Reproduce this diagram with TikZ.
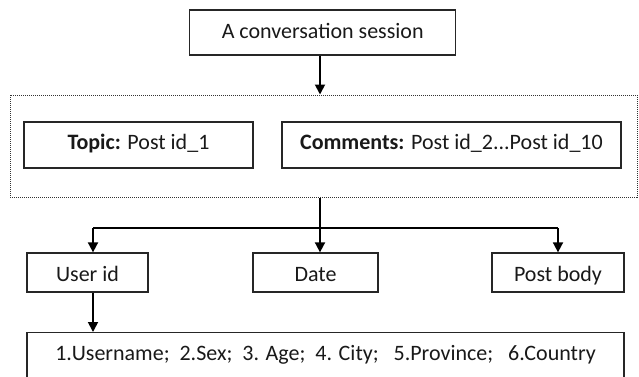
\documentclass[tikz,border=0pt]{standalone}
\usepackage{fontspec}
\setmainfont{Carlito}
\usetikzlibrary{arrows.meta}
\begin{document}
\begin{tikzpicture}[x=1pt,y=-1pt,
  box/.style={draw=black!85, line width=1.3pt, rectangle, inner sep=0pt, font=\fontsize{22}{26}\selectfont, text=black!90, text height=15pt, text depth=5pt},
  lowtext/.style={text height=19pt, text depth=1pt},
  grp/.style={draw=black!80, line width=1pt, dash pattern=on 1pt off 1pt, rectangle, inner sep=0pt},
  arr/.style={draw=black, line width=1.8pt, -{Triangle[width=10pt,length=10pt]}},
  ln/.style={draw=black, line width=1.8pt}]
\useasboundingbox (0,0) rectangle (639,376);
\clip (0,0) rectangle (639,376);
\node[box, minimum width=266pt, minimum height=45pt, text height=16pt, text depth=4pt] (top) at (322.7,32.5) {A conversation session};
\node[grp, minimum width=627pt, minimum height=102pt] (grp) at (323.5,146) {};
\node[box, minimum width=229pt, minimum height=46pt, text height=14.5pt, text depth=5.5pt] (topic) at (138.5,145) {\textbf{Topic:} Post id\_1};
\node[box, minimum width=339pt, minimum height=46pt, text height=14.5pt, text depth=5.5pt] (comments) at (451.5,145) {\textbf{Comments:} Post id\_2...Post id\_10};
\node[box, lowtext, minimum width=121pt, minimum height=39pt] (user) at (87.5,272.5) {User id};
\node[box, lowtext, minimum width=125pt, minimum height=39pt] (date) at (315.5,272.5) {Date};
\node[box, lowtext, minimum width=132pt, minimum height=39pt] (body) at (558,272.5) {Post body};
\node[box, minimum width=597pt, anchor=north, inner ysep=0pt, text height=28pt, text depth=45pt] (attr) at (325.5,332) {1.Username;\ \ 2.Sex;\ \ 3. Age;\ \ 4. City;\ \ \ 5.Province;\ \ \ 6.Country};
\coordinate (split) at (320,228);
\coordinate (sl) at (93,228);
\coordinate (sr) at (558,228);
\draw[arr] (top.south -| 320,0) -- (grp.north -| 320,0);
\draw[ln] (grp.south -| 320,0) -- (split);
\draw[ln] (sl) -- (sr);
\draw[arr] (sl) -- (user.north -| sl);
\draw[arr] (split) -- (date.north -| split);
\draw[arr] (sr) -- (body.north -| sr);
\draw[arr] (user.south -| sl) -- (attr.north -| sl);
\end{tikzpicture}
\end{document}
